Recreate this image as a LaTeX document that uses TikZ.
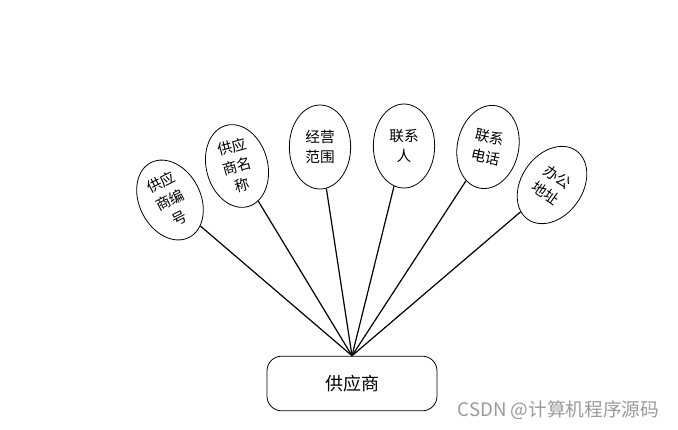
\documentclass[tikz,border=0pt]{standalone}
\usepackage{fontspec}
\usepackage{tikz}
\usetikzlibrary{shapes.geometric}
\newfontfamily\cjk{Noto Sans CJK SC}
\definecolor{lineink}{HTML}{000000}
\definecolor{markgray}{HTML}{9A9A9A}
\tikzset{
  attr/.style={draw=lineink, ellipse, line width=0.6pt, inner sep=0pt, align=center,
    minimum width=46pt, minimum height=63pt, font=\cjk\fontsize{11}{15}\selectfont},
  ent/.style={draw=lineink, rounded corners=11pt, line width=0.6pt, align=center,
    minimum width=127.5pt, minimum height=41pt, font=\cjk\fontsize{13.5}{16}\selectfont},
  link/.style={draw=lineink, line width=0.9pt}
}
\begin{document}
\begin{tikzpicture}[x=0.75pt, y=-0.75pt]
\useasboundingbox (0,0) rectangle (678,429);
\node[ent] (supplier) at (352,383.5) {供应商};
\node[attr, rotate=27] (sno) at (170,200) {供应\\商编\\号};
\node[attr, rotate=15] (sname) at (237,166) {供应\\商名\\称};
\node[attr] (scope) at (320,147) {经营\\范围};
\node[attr] (contact) at (404,146) {联系\\人};
\node[attr, rotate=-12] (phone) at (488,147) {联系\\电话};
\node[attr, rotate=-35] (office) at (552,185) {办公\\地址};
\draw[link] (sno)--(supplier.north); \draw[link] (sname)--(supplier.north);
\draw[link] (scope)--(supplier.north); \draw[link] (contact)--(supplier.north);
\draw[link] (phone)--(supplier.north); \draw[link] (office)--(supplier.north);
\node[font=\cjk\fontsize{14}{16}\selectfont, text=markgray, anchor=east] (mark) at (664,410) {CSDN @计算机程序源码};
\end{tikzpicture}
\end{document}
